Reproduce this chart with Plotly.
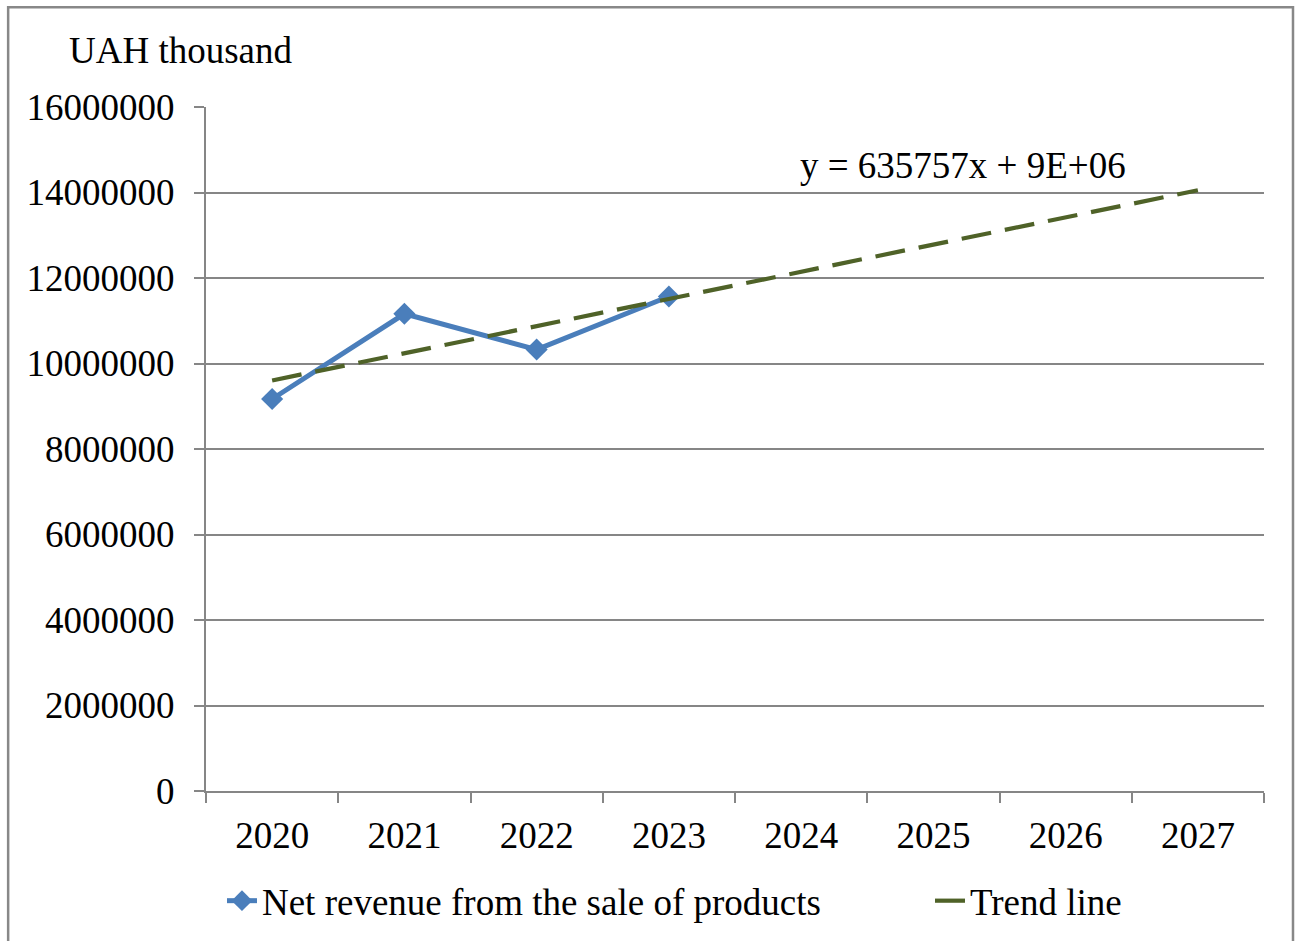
import numpy as np
import plotly.graph_objects as go

# Net revenue from the sale of products, UAH thousand
years = ["2020", "2021", "2022", "2023", "2024", "2025", "2026", "2027"]
revenue_years = ["2020", "2021", "2022", "2023"]
revenue = [9170000, 11163000, 10326000, 11568000]

y_ticks = [0, 2000000, 4000000, 6000000, 8000000, 10000000, 12000000, 14000000, 16000000]

# Linear trend over period index 1..8: slope from the fitted equation,
# intercept through the mean of the observed years
TREND_SLOPE = 635757
idx = np.arange(1, len(revenue) + 1)
trend_intercept = float(np.mean(revenue)) - TREND_SLOPE * float(np.mean(idx))
trend_idx = np.arange(1, len(years) + 1)
trend = TREND_SLOPE * trend_idx + trend_intercept
equation = f"y = {TREND_SLOPE}x + {trend_intercept:.0E}"

FONT = "Liberation Serif, Times New Roman, serif"
FS = 37
GRID = "#868686"

fig = go.Figure()
fig.add_trace(go.Scatter(
    x=revenue_years, y=revenue, mode="lines+markers",
    name="Net revenue from the sale of products",
    line=dict(color="#4A7EBB", width=5),
    marker=dict(symbol="diamond", size=17, color="#4A7EBB"),
    legend="legend",
))
fig.add_trace(go.Scatter(
    x=years, y=trend, mode="lines", name="Trend line",
    line=dict(color="#4F6228", width=4.2, dash="30px,14px"),
    legend="legend2",
))

legend_common = dict(
    orientation="h", y=-0.161, xanchor="left", yanchor="middle",
    font=dict(family=FONT, size=FS), bgcolor="rgba(0,0,0,0)",
)

fig.update_layout(
    width=1299, height=941,
    margin=dict(l=206, r=35, t=107, b=150, autoexpand=False),
    paper_bgcolor="white", plot_bgcolor="white",
    font=dict(family=FONT, size=FS, color="black"),
    showlegend=True,
    legend=dict(x=0.0151, **legend_common),
    legend2=dict(x=0.6843, **legend_common),
    xaxis=dict(
        type="category", categoryorder="array", categoryarray=years,
        range=[-0.5, 7.5], showgrid=False, showline=True, linecolor=GRID, linewidth=2,
        ticks="outside", tickson="boundaries", ticklen=10, tickcolor=GRID, tickwidth=2,
        ticklabelstandoff=11, tickfont=dict(family=FONT, size=FS), fixedrange=True,
    ),
    yaxis=dict(
        range=[0, 16000000], tickvals=y_ticks, ticktext=[str(v) for v in y_ticks],
        showgrid=True, gridcolor=GRID, gridwidth=2, zeroline=False,
        showline=True, linecolor=GRID, linewidth=2,
        ticks="outside", ticklen=10, tickcolor=GRID, tickwidth=2,
        ticklabelstandoff=12, tickfont=dict(family=FONT, size=FS), fixedrange=True,
    ),
    annotations=[
        dict(text="UAH thousand", xref="paper", yref="paper", x=-0.131, y=1.083,
             xanchor="left", yanchor="middle", showarrow=False,
             font=dict(family=FONT, size=FS)),
        dict(text=equation, xref="paper", yref="paper", x=0.56, y=0.914,
             xanchor="left", yanchor="middle", showarrow=False,
             font=dict(family=FONT, size=FS)),
    ],
    shapes=[
        dict(type="rect", xref="paper", yref="paper", x0=-0.187, x1=1.0274,
             y0=-0.24, y1=1.146, line=dict(color="#888888", width=2.5), layer="below"),
    ],
)

fig.write_html("out.html")
